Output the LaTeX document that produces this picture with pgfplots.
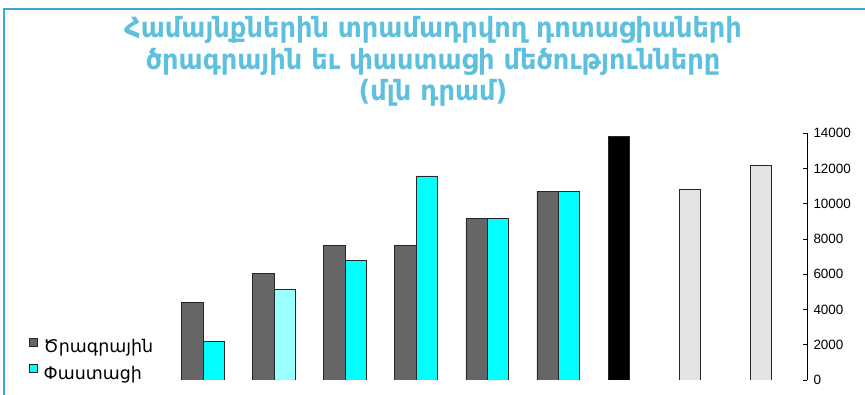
\documentclass[border=0pt]{standalone}
\usepackage{fontspec}
\setmainfont{Liberation Sans}
\newfontfamily\armfont{DejaVu Sans}
\newfontfamily\armtitle[FakeStretch=0.92]{DejaVu Sans}
\usepackage{pgfplots}
\pgfplotsset{compat=1.18}
\definecolor{titleblue}{RGB}{95,192,222}
\definecolor{frameblue}{RGB}{60,168,208}
\definecolor{bargray}{RGB}{102,102,102}
\definecolor{barcyan}{RGB}{0,255,255}
\definecolor{barlightcyan}{RGB}{153,255,255}
\definecolor{barlightgray}{RGB}{227,227,227}
\begin{document}
\begin{tikzpicture}
\path[use as bounding box] (0,0) rectangle (865bp,395bp);
\draw[frameblue, line width=2bp] (3.5bp,0) -- (3.5bp,385.5bp) -- (865bp,385.5bp);
\node[anchor=base, text=titleblue, font=\armtitle\bfseries\fontsize{28}{32}\selectfont] at (433bp,357bp) {Համայնքներին տրամադրվող դոտացիաների};
\node[anchor=base, text=titleblue, font=\armtitle\bfseries\fontsize{28}{32}\selectfont] at (433bp,325bp) {ծրագրային եւ փաստացի մեծությունները};
\node[anchor=base, text=titleblue, font=\armtitle\bfseries\fontsize{28}{32}\selectfont] at (433bp,294bp) {(մլն դրամ)};
\begin{axis}[
  scale only axis,
  width=639.5bp, height=246.7bp,
  at={(167.5bp,15bp)}, anchor=south west,
  xmin=0.5, xmax=9.5,
  ymin=0, ymax=14000,
  axis x line=none,
  axis y line=right,
  y axis line style={-, black, line width=0.8bp},
  ytick={0,2000,...,14000},
  scaled y ticks=false,
  tick align=inside,
  major tick length=4bp,
  tick style={black, line width=0.8bp},
  /pgf/number format/assume math mode=true,
  /pgf/number format/.cd, 1000 sep={}, /pgfplots/.cd,
  yticklabel style={font=\fontsize{13.5}{15}\selectfont, xshift=3bp},
  ybar, bar shift=0pt, bar width=0.3,
  every axis plot/.append style={draw=black!85, line width=0.8bp},
  legend style={draw=none, fill=none, at={(axis description cs:-0.222,0.183)}, anchor=north west,
    font=\armfont\fontsize{17.5}{20}\selectfont, row sep=8bp, cells={anchor=west}},
  legend image code/.code={\draw[#1, draw=black!85, line width=0.8bp] (1bp,0.5bp) rectangle (9bp,8.5bp); \path[draw=none, fill=none] (0bp,-8bp) rectangle (13bp,8bp);},
]
\addplot[fill=bargray] coordinates {(0.85,4400) (1.85,6050) (2.85,7620) (3.85,7620) (4.85,9190) (5.85,10720)};
\addlegendentry{Ծրագրային}
\addplot[fill=barcyan] coordinates {(1.15,2170) (3.15,6800) (4.15,11580) (5.15,9190) (6.15,10720)};
\addlegendentry{Փաստացի}
\addplot[fill=barlightcyan, forget plot] coordinates {(2.15,5150)};
\addplot[fill=black, forget plot] coordinates {(6.85,13810)};
\addplot[fill=barlightgray, forget plot] coordinates {(7.85,10820) (8.85,12180)};
\end{axis}
\end{tikzpicture}
\end{document}
